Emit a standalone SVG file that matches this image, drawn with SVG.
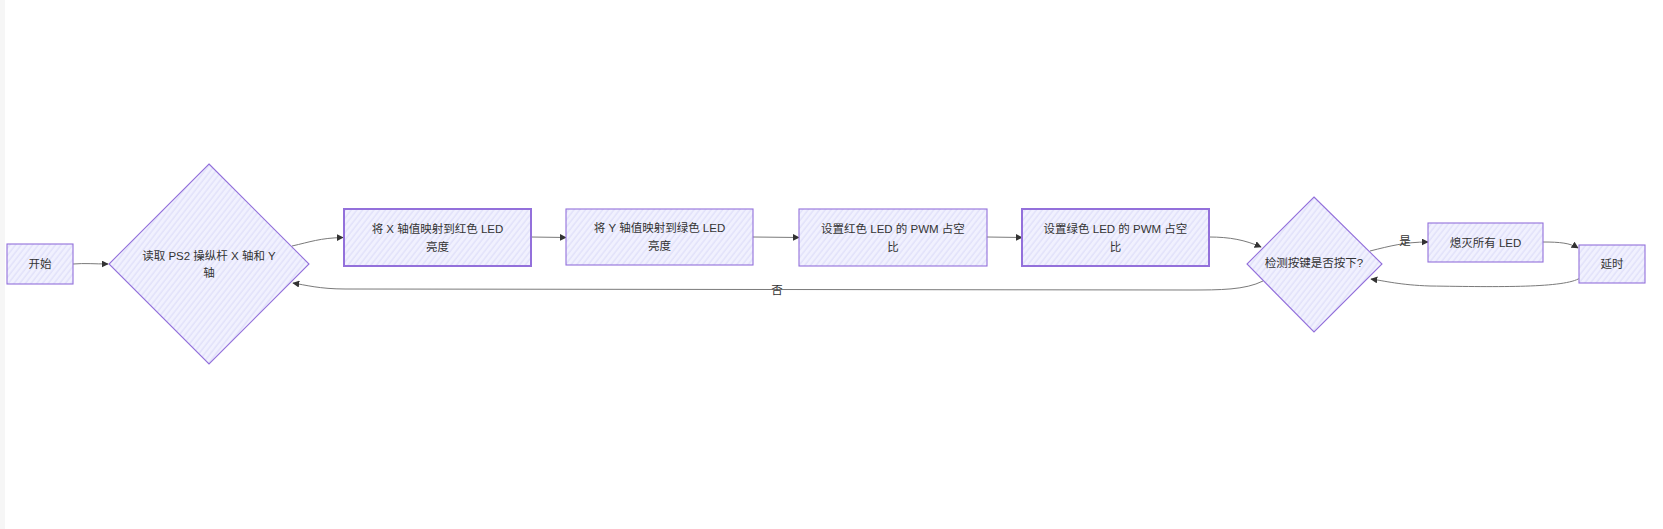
<svg xmlns="http://www.w3.org/2000/svg" width="1663" height="529" viewBox="0 0 1663 529">
<style>
.node{fill:url(#hatch);stroke:#9370DB;stroke-width:1.1}
.thick{stroke-width:2}
.lbl{font-family:"Liberation Sans","Noto Sans CJK SC",sans-serif;font-size:11.5px;fill:#333;text-anchor:middle;dominant-baseline:central}
.edge{fill:none;stroke:#7a7a7a;stroke-width:1}
</style>
<defs>
<pattern id="hatch" patternUnits="userSpaceOnUse" width="4.5" height="4.5" patternTransform="rotate(38)">
<rect width="4.5" height="4.5" fill="#f1f1fe"/>
<line x1="1" y1="0" x2="1" y2="4.5" stroke="#e0e0fa" stroke-width="1.3"/>
</pattern>
<marker id="arr" viewBox="0 0 10 10" refX="9" refY="5" markerWidth="7" markerHeight="7" markerUnits="userSpaceOnUse" orient="auto">
<path d="M0,0 L10,5 L0,10 z" fill="#333"/>
</marker>
</defs>
<rect x="0" y="0" width="1663" height="529" fill="#ffffff"/>
<rect x="0" y="0" width="5" height="529" fill="#f6f6f6"/>
<g id="edges">
<path class="edge" d="M73,264 C85,263 95,264 108,264" marker-end="url(#arr)"/>
<path class="edge" d="M292,246 C310,242 320,238 343,237.5" marker-end="url(#arr)"/>
<path class="edge" d="M531,237 L566,237.5" marker-end="url(#arr)"/>
<path class="edge" d="M753,237 L799,237.5" marker-end="url(#arr)"/>
<path class="edge" d="M987,237 L1022,237.5" marker-end="url(#arr)"/>
<path class="edge" d="M1209,237 C1230,237 1245,240 1261,247" marker-end="url(#arr)"/>
<path class="edge" d="M1370,251 C1390,246 1405,242 1428,242" marker-end="url(#arr)"/>
<path class="edge" d="M1543,242 C1560,242 1570,243 1578,248" marker-end="url(#arr)"/>
<path class="edge" d="M1580,278 C1565,288 1500,287 1430,286 C1400,285 1385,281 1371,279" marker-end="url(#arr)"/>
<path class="edge" d="M1263,281 C1245,290 1220,290 1190,290 L345,289 C320,289 305,285 293,283" marker-end="url(#arr)"/>
<text class="lbl" x="777" y="290">否</text>
<text class="lbl" x="1405" y="241">是</text>
</g>
<g id="start">
<rect class="node" x="7" y="244" width="66" height="40"/>
<text class="lbl" x="40" y="264">开始</text>
</g>
<g id="read">
<polygon class="node" points="209,164 309,264 209,364 109,264"/>
<text class="lbl" x="209" y="256">读取 PS2 操纵杆 X 轴和 Y</text>
<text class="lbl" x="209" y="273">轴</text>
</g>
<g id="mapX">
<rect class="node thick" x="344" y="209" width="187" height="57"/>
<text class="lbl" x="437.5" y="228.5">将 X 轴值映射到红色 LED</text>
<text class="lbl" x="437.5" y="246.5">亮度</text>
</g>
<g id="mapY">
<rect class="node" x="566" y="209" width="187" height="56"/>
<text class="lbl" x="659.5" y="228">将 Y 轴值映射到绿色 LED</text>
<text class="lbl" x="659.5" y="246">亮度</text>
</g>
<g id="pwmR">
<rect class="node" x="799" y="209" width="188" height="57"/>
<text class="lbl" x="893" y="228.5">设置红色 LED 的 PWM 占空</text>
<text class="lbl" x="893" y="246.5">比</text>
</g>
<g id="pwmG">
<rect class="node thick" x="1022" y="209" width="187" height="57"/>
<text class="lbl" x="1115.5" y="228.5">设置绿色 LED 的 PWM 占空</text>
<text class="lbl" x="1115.5" y="246.5">比</text>
</g>
<g id="check">
<polygon class="node" points="1314,197 1382,264 1314,332 1247,264"/>
<text class="lbl" x="1314" y="263">检测按键是否按下?</text>
</g>
<g id="off">
<rect class="node" x="1428" y="223" width="115" height="39"/>
<text class="lbl" x="1485.5" y="242.5">熄灭所有 LED</text>
</g>
<g id="delay">
<rect class="node" x="1579" y="245" width="66" height="38"/>
<text class="lbl" x="1612" y="264">延时</text>
</g>
</svg>
